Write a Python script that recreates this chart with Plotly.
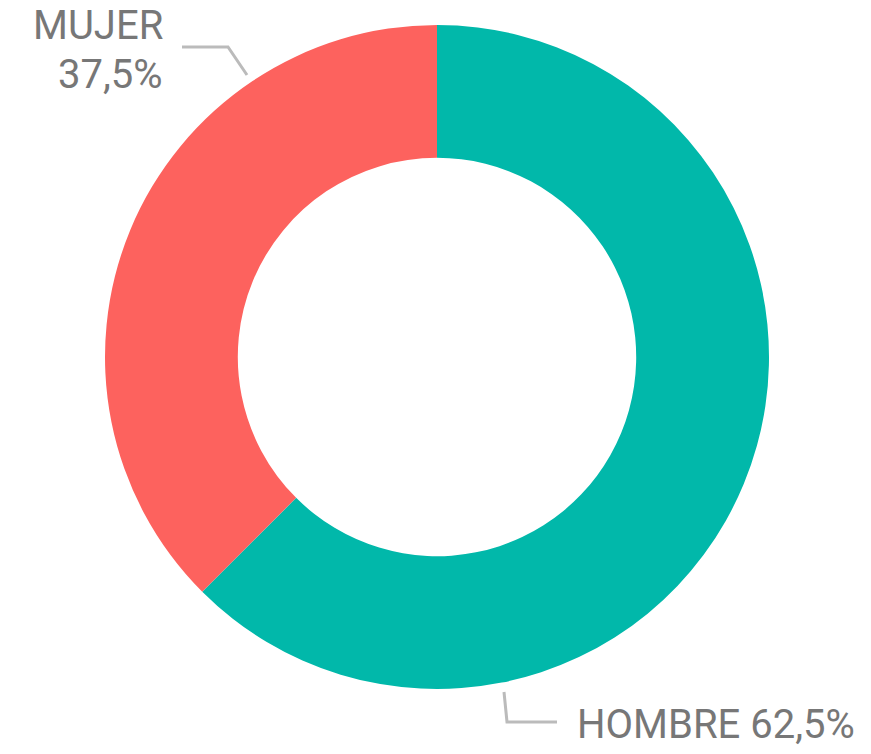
import plotly.graph_objects as go

W, H = 871, 754
OFF = 8  # page body margin

labels = ["HOMBRE", "MUJER"]
values = [62.5, 37.5]
pct_text = ["62,5%", "37,5%"]

colors = {
    "HOMBRE": "#01B8AA",
    "MUJER": "#FD625E",
    "text": "#777777",
    "leader": "#BBBBBB",
}


def px(x):
    return (x - OFF) / W


def py(y):
    return 1 - (y - OFF) / H


# donut centre (437, 357), outer radius ~332 px (page pixels)
cx, cy, r = 437, 357, 332

fig = go.Figure(
    go.Pie(
        labels=labels,
        values=values,
        hole=0.6,
        sort=False,
        direction="clockwise",
        rotation=0,
        marker=dict(colors=[colors[l] for l in labels], line=dict(width=0)),
        textinfo="none",
        domain=dict(x=[px(cx - r), px(cx + r)], y=[py(cy + r), py(cy - r)]),
    )
)

font = dict(family="Roboto, DejaVu Sans, sans-serif", size=40, color=colors["text"])

# labels placed like the source, outside the ring
fig.add_annotation(text=labels[1], x=px(165), y=py(26), xref="paper", yref="paper",
                   xanchor="right", yanchor="middle", showarrow=False, font=font)
fig.add_annotation(text=pct_text[1], x=px(165), y=py(74), xref="paper", yref="paper",
                   xanchor="right", yanchor="middle", showarrow=False, font=font)
fig.add_annotation(text=f"{labels[0]} {pct_text[0]}", x=px(575), y=py(724), xref="paper", yref="paper",
                   xanchor="left", yanchor="middle", showarrow=False, font=font)

# leader lines
line = dict(color=colors["leader"], width=3)
fig.add_shape(type="path", xref="paper", yref="paper", line=line,
              path=f"M {px(182)} {py(47)} L {px(228)} {py(47)} L {px(247)} {py(75)}")
fig.add_shape(type="path", xref="paper", yref="paper", line=line,
              path=f"M {px(504)} {py(692)} L {px(507)} {py(722)} L {px(557)} {py(722)}")

fig.update_layout(
    width=W,
    height=H,
    margin=dict(l=0, r=0, t=0, b=0),
    paper_bgcolor="white",
    plot_bgcolor="white",
    showlegend=False,
)

fig.write_html("out.html")
